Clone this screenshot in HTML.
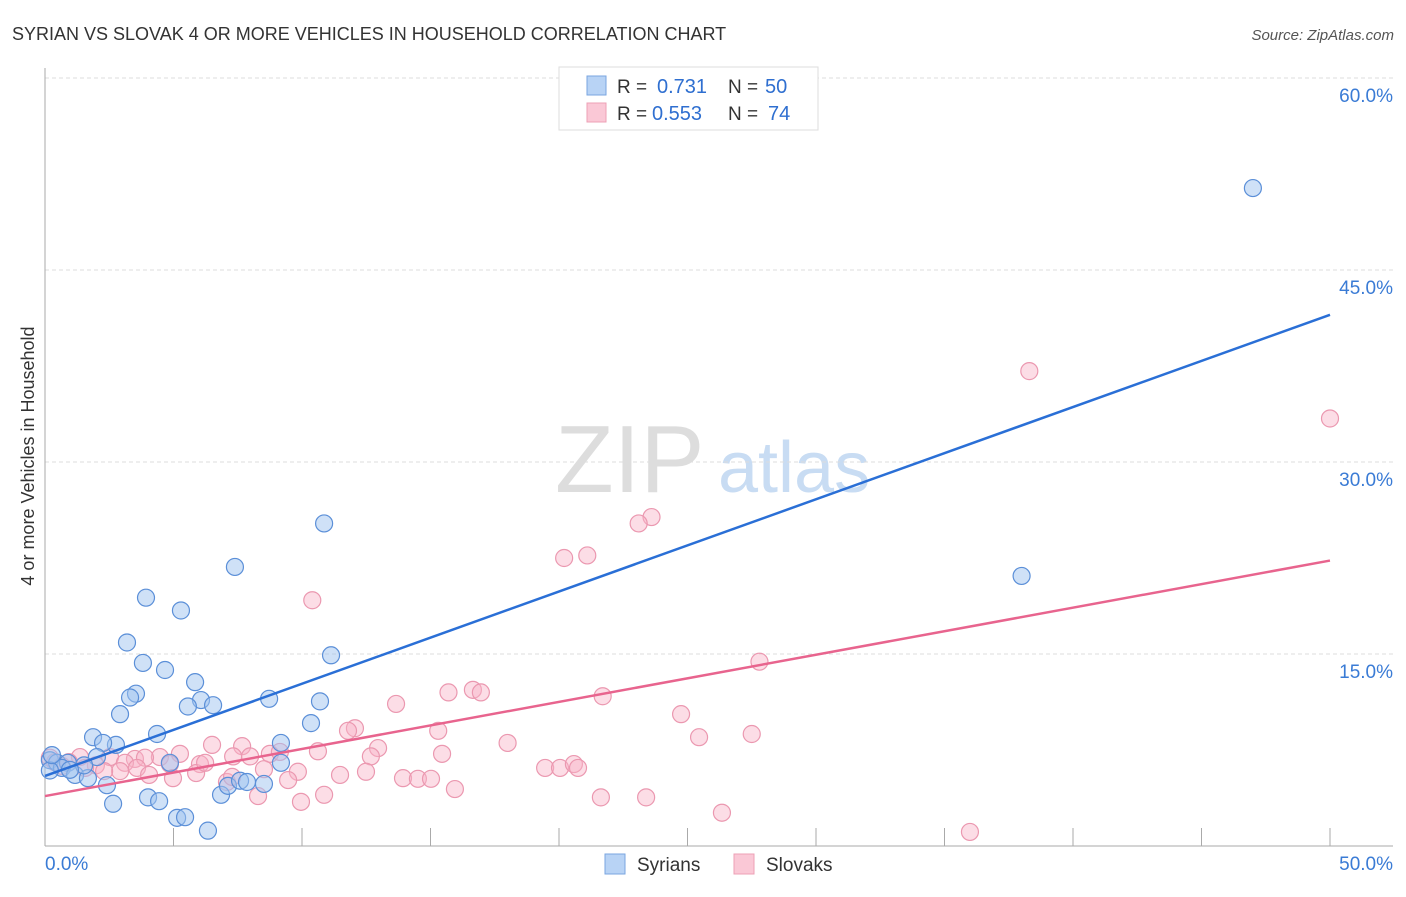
<!DOCTYPE html>
<html><head><meta charset="utf-8"><style>
body{margin:0;background:#fff;font-family:"Liberation Sans",sans-serif}
svg text{font-family:"Liberation Sans",sans-serif}
</style></head><body>
<svg id="chart" width="1406" height="892" xmlns="http://www.w3.org/2000/svg">
<text x="12" y="40" font-size="18" fill="#333">SYRIAN VS SLOVAK 4 OR MORE VEHICLES IN HOUSEHOLD CORRELATION CHART</text>
<text x="1394" y="40" font-size="15" fill="#555" text-anchor="end" font-style="italic">Source: ZipAtlas.com</text>
<text transform="translate(34,456) rotate(-90)" font-size="18" fill="#333" text-anchor="middle">4 or more Vehicles in Household</text>
<g>
<text x="555" y="492" font-size="96" fill="#ddd" font-family="Liberation Serif, serif">ZIP</text>
<text x="718" y="492" font-size="72" fill="#c8dcf3">atlas</text>
</g>
<g id="grid"></g>
<g id="axes"></g>
<g id="points"></g>
<g id="lines"></g>
<g>
<rect x="559" y="67" width="259" height="63" fill="#fff" stroke="#ddd"/>
<rect x="587" y="76" width="19" height="19" fill="#b8d3f5" stroke="#7aa6e0"/>
<text x="617" y="93" font-size="19" fill="#333">R = </text><text x="657" y="93" font-size="20" fill="#2f6fd0">0.731</text>
<text x="728" y="93" font-size="19" fill="#333">N = </text><text x="765" y="93" font-size="20" fill="#2f6fd0">50</text>
<rect x="587" y="103" width="19" height="19" fill="#fac8d6" stroke="#eda0b6"/>
<text x="617" y="120" font-size="19" fill="#333">R = </text><text x="652" y="120" font-size="20" fill="#2f6fd0">0.553</text>
<text x="728" y="120" font-size="19" fill="#333">N = </text><text x="768" y="120" font-size="20" fill="#2f6fd0">74</text>
</g>
<g>
<rect x="605" y="854" width="20" height="20" fill="#b8d3f5" stroke="#7aa6e0"/>
<text x="637" y="871" font-size="19" fill="#333">Syrians</text>
<rect x="734" y="854" width="20" height="20" fill="#fac8d6" stroke="#eda0b6"/>
<text x="766" y="871" font-size="19" fill="#333">Slovaks</text>
</g>
</svg>
<script>
const syrX=[47.0,10.86,7.39,3.93,5.29,3.19,11.13,3.81,4.67,5.84,3.54,3.31,6.07,5.56,6.54,8.72,10.7,2.92,10.35,4.36,1.87,2.76,2.26,9.18,9.18,2.02,4.86,0.19,0.47,0.89,0.66,0.19,1.17,1.67,2.41,4.01,4.44,2.65,6.85,7.12,7.59,7.86,8.52,5.14,5.45,6.34,38.0,0.27,1.52,0.97];
const syrY=[51.4,25.2,21.8,19.4,18.4,15.9,14.9,14.3,13.75,12.8,11.9,11.6,11.4,10.9,11.0,11.5,11.3,10.3,9.6,8.75,8.5,7.9,8.05,8.05,6.5,6.95,6.5,6.7,6.5,6.5,6.1,5.9,5.55,5.3,4.75,3.8,3.5,3.3,4.0,4.7,5.1,5.0,4.85,2.2,2.25,1.2,21.1,7.1,6.3,5.95];
const sloX=[50.0,38.3,23.6,23.1,20.2,21.1,10.4,27.8,21.7,15.7,16.65,16.96,13.66,24.75,12.06,11.79,25.45,27.5,15.3,18.0,12.96,15.45,10.62,12.68,6.5,7.67,5.25,4.47,8.75,9.14,3.5,3.89,2.53,1.36,1.98,3.11,4.86,6.03,7.32,7.98,8.52,9.84,11.48,12.49,13.93,14.51,15.02,19.46,20.04,20.58,20.74,5.88,4.98,2.92,7.08,9.46,15.95,8.29,9.96,10.86,21.63,23.39,26.34,35.99,0.19,0.39,0.66,0.93,1.56,2.3,3.58,4.05,6.23,7.28];
const sloY=[33.4,37.1,25.7,25.2,22.5,22.7,19.2,14.4,11.7,12.0,12.2,12.0,11.1,10.3,9.2,9.0,8.5,8.75,9.0,8.05,7.65,7.2,7.4,7.0,7.9,7.8,7.2,6.95,7.2,7.35,6.8,6.9,6.95,6.95,6.3,6.5,6.4,6.4,7.0,7.0,6.0,5.8,5.55,5.8,5.3,5.25,5.25,6.1,6.1,6.4,6.1,5.7,5.3,5.85,5.0,5.15,4.45,3.9,3.45,4.0,3.8,3.8,2.6,1.1,6.9,6.55,6.25,6.55,6.1,5.85,6.1,5.55,6.5,5.4];
const syrLine=[5.47,41.5];
const sloLine=[3.9,22.3];
const yTicks=[15,30,45,60];
const yTickLabels=["15.0%","30.0%","45.0%","60.0%"];
const xTicks=[5,10,15,20,25,30,35,40,45,50];
const NS="http://www.w3.org/2000/svg";
const X=v=>45+v*25.7, Y=v=>846-v*12.8;
function mk(p,t,a){const e=document.createElementNS(NS,t);for(const k in a)e.setAttribute(k,a[k]);p.appendChild(e);return e;}
const grid=document.getElementById('grid'),axes=document.getElementById('axes'),pts=document.getElementById('points'),lines=document.getElementById('lines');
yTicks.forEach((v,i)=>{
 const l=mk(grid,'line',{x1:45,x2:1393,y1:Y(v),y2:Y(v),stroke:'#ddd','stroke-dasharray':'4,3'});
 
 
 const t=mk(grid,'text',{x:1393,y:Y(v)+24,'font-size':19,fill:'#3a7bd5','text-anchor':'end'});
 t.textContent=yTickLabels[i];
 
 
});
let a=mk(axes,'line',{x1:45,x2:45,y1:68,y2:846,stroke:'#aaa'});


a=mk(axes,'line',{x1:45,x2:1393,y1:846,y2:846,stroke:'#aaa'});


xTicks.forEach(v=>{const t=mk(axes,'line',{x1:X(v),x2:X(v),y1:828,y2:846,stroke:'#aaa'});
 
 });
let t=mk(axes,'text',{x:45,y:870,'font-size':19,fill:'#3a7bd5'});t.textContent='0.0%';


t=mk(axes,'text',{x:1393,y:870,'font-size':19,fill:'#3a7bd5','text-anchor':'end'});t.textContent='50.0%';


sloX.forEach((v,i)=>{const c=mk(pts,'circle',{cx:X(v),cy:Y(sloY[i]),r:8.5,fill:'rgba(248,180,200,0.45)',stroke:'#eb98b0','stroke-width':1.2});
 
 });
syrX.forEach((v,i)=>{const c=mk(pts,'circle',{cx:X(v),cy:Y(syrY[i]),r:8.5,fill:'rgba(160,196,240,0.5)',stroke:'#5b8fd8','stroke-width':1.2});
 
 });
let L=mk(lines,'line',{x1:X(0),y1:Y(syrLine[0]),x2:X(50),y2:Y(syrLine[1]),stroke:'#2a6fd6','stroke-width':2.5});


L=mk(lines,'line',{x1:X(0),y1:Y(sloLine[0]),x2:X(50),y2:Y(sloLine[1]),stroke:'#e8648e','stroke-width':2.5});


</script>
</body></html>
